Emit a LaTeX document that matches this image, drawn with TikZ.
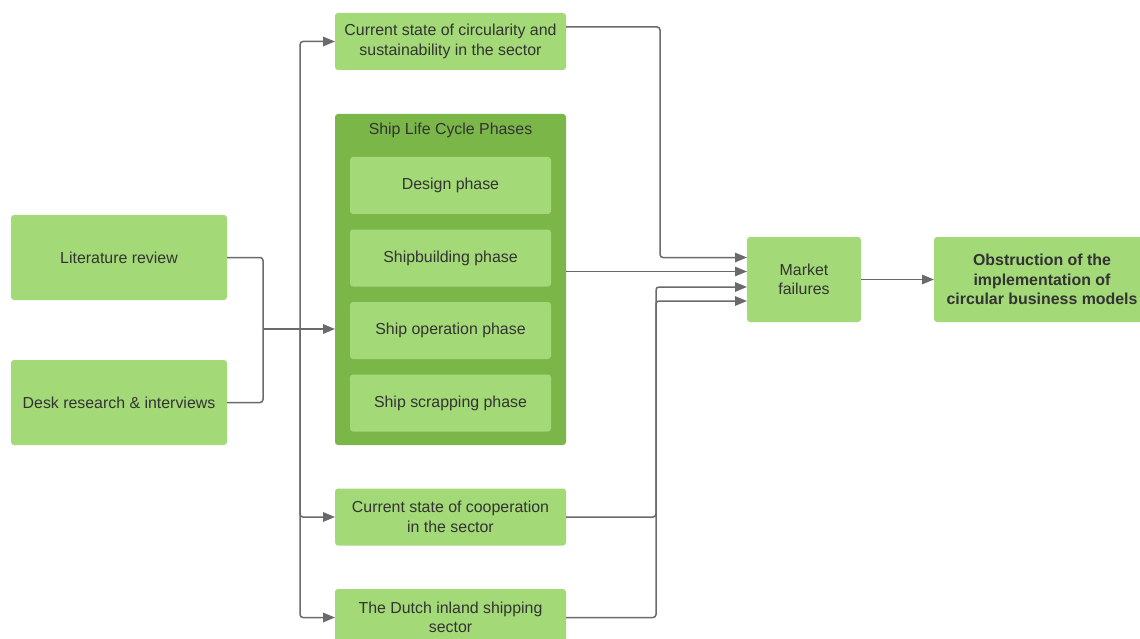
\documentclass[tikz,border=0pt]{standalone}
\usepackage{fontspec}
\setmainfont{Liberation Sans}
\usepackage{xcolor}
\usepackage{tikz}
\usetikzlibrary{arrows.meta,positioning,calc}

\definecolor{leafgreen}{HTML}{A3D977}
\definecolor{mossgreen}{HTML}{7AB648}
\definecolor{inkgray}{HTML}{333333}
\definecolor{wiregray}{HTML}{6A6A6A}

\begin{document}
\begin{tikzpicture}
[x = 1pt, y = -1pt,
 stage/.style = {fill = leafgreen, rounded corners = 3pt, align = center, text = inkgray,
                 font = \fontsize{15.9}{19.5}\selectfont, inner sep = 0pt, outer sep = 0pt},
 wide/.style = {stage, minimum width = 231pt, minimum height = 57pt},
 phase/.style = {stage, minimum width = 201pt, minimum height = 57pt},
 source/.style = {stage, minimum width = 216pt, minimum height = 85pt},
 wire/.style = {draw = wiregray, line width = 1.5pt, rounded corners = 3pt},
 feed/.style = {wire, -{Triangle[length = 12pt, width = 9.5pt]}}]

\useasboundingbox (0,0) rectangle (1140,639);
\clip (0,0) rectangle (1140,639);

\node[source] (lit) at (119,257.5) {Literature review};
\node[source] (desk) at (119,402.5) {Desk research \& interviews};

\node[wide] (circ) at (450.5,41.5) {Current state of circularity and\\sustainability in the sector};

\node[stage, fill = mossgreen, minimum width = 231pt, minimum height = 331pt] (phases) at (450.5,279.5) {};
\node[stage, fill = none] (title) at (450.5,130.5) {Ship Life Cycle Phases};
\node[phase] (design) at (450.5,185.5) {Design phase};
\node[phase, below = 15.5pt of design] (build) {Shipbuilding phase};
\node[phase, below = 15.5pt of build] (operate) {Ship operation phase};
\node[phase, below = 15.5pt of operate] (scrap) {Ship scrapping phase};

\node[wide] (coop) at (450.5,517) {Current state of cooperation\\in the sector};
\node[wide] (dutch) at (450.5,617.5) {The Dutch inland shipping\\sector};

\node[stage, minimum width = 114pt, minimum height = 85pt] (market) at (804,279.5) {Market\\failures};
\node[source, font = \fontsize{15.9}{19.5}\selectfont\bfseries] (obst) at (1042,279.5)
  {Obstruction of the\\implementation of\\circular business models};

\coordinate (j1) at (263,329);
\coordinate (j2) at (300,329);

\draw[wire] (lit.east) -| (j1);
\draw[wire] (desk.east) -| (j1);
\draw[feed] (j1) -- (j1 -| phases.west);
\draw[feed] (j2) |- (circ.west);
\draw[feed] (j2) |- (coop.west);
\draw[feed] (j2) |- (dutch.west);

\draw[feed] ([yshift = 14.5pt]circ.east) -- ++(94,0) |- ([yshift = 22pt]market.west);
\draw[feed] ([yshift = 8pt]phases.east) -- ([yshift = 8pt]market.west);
\draw[feed] (coop.east) -- ++(90,0) |- ([yshift = -7.5pt]market.west);
\draw[feed] (dutch.east) -- ++(90,0) |- ([yshift = -21.5pt]market.west);
\draw[feed] (market) -- (obst);

\end{tikzpicture}
\end{document}
